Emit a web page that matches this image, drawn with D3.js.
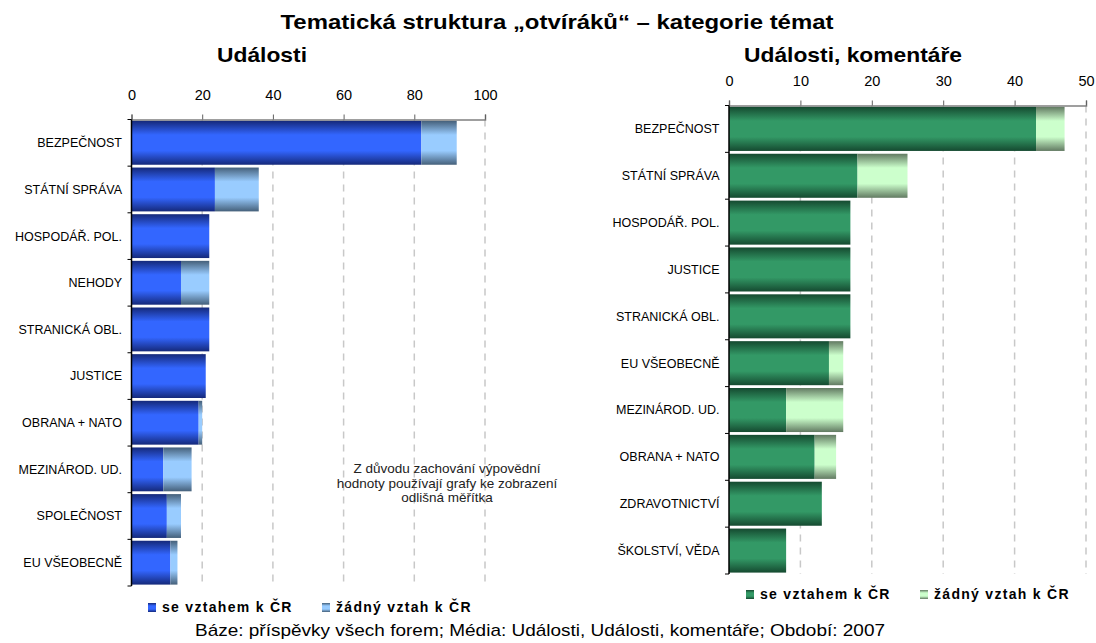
<!DOCTYPE html>
<html>
<head>
<meta charset="utf-8">
<script src="https://cdn.jsdelivr.net/npm/d3@7"></script>
<style>
  body { margin: 0; background: #fff; }
  svg { font-family: Arial, "Liberation Sans", sans-serif; }
</style>
</head>
<body>
<svg id="chart" width="1096" height="643"></svg>
<script>
// values
const leftCategories = ["BEZPEČNOST", "STÁTNÍ SPRÁVA", "HOSPODÁŘ. POL.", "NEHODY", "STRANICKÁ OBL.", "JUSTICE", "OBRANA + NATO", "MEZINÁROD. UD.", "SPOLEČNOST", "EU VŠEOBECNĚ"];
const leftSe = [82, 23.6, 22, 14, 22, 21, 19, 9, 10, 11];
const leftZadny = [10, 12.4, 0, 8, 0, 0, 1, 8, 4, 2];
const leftTicks = [0, 20, 40, 60, 80, 100];

const rightCategories = ["BEZPEČNOST", "STÁTNÍ SPRÁVA", "HOSPODÁŘ. POL.", "JUSTICE", "STRANICKÁ OBL.", "EU VŠEOBECNĚ", "MEZINÁROD. UD.", "OBRANA + NATO", "ZDRAVOTNICTVÍ", "ŠKOLSTVÍ, VĚDA"];
const rightSe = [43, 18, 17, 17, 17, 14, 8, 12, 13, 8];
const rightZadny = [4, 7, 0, 0, 0, 2, 8, 3, 0, 0];
const rightTicks = [0, 10, 20, 30, 40, 50];

const seriesNames = ["se vztahem k ČR", "žádný vztah k ČR"];

const svg = d3.select("#chart");
const defs = svg.append("defs");

// vertical "tube" gradients like the Excel bars
function gradient(id, edge, mid) {
  const g = defs.append("linearGradient").attr("id", id)
    .attr("x1", 0).attr("y1", 0).attr("x2", 0).attr("y2", 1);
  [[0, edge], [0.32, mid], [0.5, mid], [0.68, mid], [1, edge]].forEach(s => {
    g.append("stop").attr("offset", s[0]).attr("stop-color", s[1]);
  });
}
gradient("blueDark", "#15297a", "#3366ff");
gradient("blueLight", "#45607a", "#99ccff");
gradient("greenDark", "#154a30", "#339966");
gradient("greenLight", "#627a62", "#ccffcc");

// titles (widths stretched a little to match the original rendering)
function title(txt, x, y, size, len) {
  svg.append("text").attr("x", x).attr("y", y).attr("text-anchor", "middle")
    .style("font-size", size + "px").style("font-weight", "bold")
    .attr("textLength", len).attr("lengthAdjust", "spacingAndGlyphs")
    .text(txt);
}
title("Tematická struktura „otvíráků“ – kategorie témat", 557, 29, 21, 553);
title("Události", 262, 62, 21, 90);
title("Události, komentáře", 853, 62, 21, 218);

function drawPanel(opt) {
  const x = d3.scaleLinear().domain(opt.domain).range([opt.left, opt.right]);
  const y = d3.scaleBand().domain(opt.categories).range([opt.top, opt.bottom])
    .paddingInner(0.06).paddingOuter(0.03);
  const step = y.step();
  const g = svg.append("g");

  // dashed grid
  g.selectAll(".grid").data(opt.ticks.slice(1)).enter().append("line")
    .attr("x1", d => x(d)).attr("x2", d => x(d))
    .attr("y1", opt.top).attr("y2", opt.bottom)
    .attr("stroke", "#c8c8c8").attr("stroke-width", 1.5)
    .attr("stroke-dasharray", "7,6");

  // top axis
  const ax = g.append("g").attr("transform", `translate(0,${opt.top})`)
    .call(d3.axisTop(x).tickValues(opt.ticks).tickSize(5).tickPadding(14.5).tickFormat(d3.format("d")));
  ax.select(".domain").attr("stroke", "#808080").attr("stroke-width", 1.5);
  ax.selectAll(".tick line").attr("stroke", "#606060");
  ax.selectAll("text").style("font-size", "14.5px").attr("fill", "#000");

  // stacked bars
  const rows = opt.categories.map((c, i) => ({ c, se: opt.se[i], z: opt.z[i] }));
  const stacked = d3.stack().keys(["se", "z"])(rows);
  g.selectAll(".layer").data(stacked).enter().append("g")
    .attr("fill", (d, i) => `url(#${opt.fills[i]})`)
    .selectAll("rect").data(d => d.filter(p => p[1] > p[0])).enter().append("rect")
    .attr("x", d => x(d[0]))
    .attr("y", d => y(d.data.c))
    .attr("width", d => x(d[1]) - x(d[0]))
    .attr("height", y.bandwidth());

  // left axis with ticks on band boundaries
  g.append("line").attr("x1", opt.left).attr("x2", opt.left)
    .attr("y1", opt.top).attr("y2", opt.bottom).attr("stroke", "#000").attr("stroke-width", 1.5);
  g.selectAll(".ytick").data(d3.range(opt.categories.length + 1)).enter().append("line")
    .attr("x1", opt.left - 4).attr("x2", opt.left)
    .attr("y1", i => opt.top + i * step).attr("y2", i => opt.top + i * step)
    .attr("stroke", "#000").attr("stroke-width", 1);

  g.selectAll(".cat").data(opt.categories).enter().append("text")
    .attr("x", opt.left - 9.5)
    .attr("y", d => y(d) + y.bandwidth() / 2)
    .attr("dy", "0.35em").attr("text-anchor", "end")
    .style("font-size", "12.5px")
    .text(d => d);

  // legend
  const lg = g.append("g").attr("transform", `translate(${opt.legendX},${opt.legendY})`);
  seriesNames.forEach((s, i) => {
    const ox = i * 174;
    lg.append("rect").attr("x", ox).attr("y", -9).attr("width", 8).attr("height", 9)
      .attr("fill", `url(#${opt.fills[i]})`);
    lg.append("text").attr("x", ox + 14).attr("y", 0)
      .style("font-size", "14px").style("font-weight", "bold").style("letter-spacing", "1.3px")
      .text(s);
  });
}

drawPanel({
  categories: leftCategories, se: leftSe, z: leftZadny, ticks: leftTicks,
  domain: [0, 100], left: 131.5, right: 485, top: 119.5, bottom: 586,
  fills: ["blueDark", "blueLight"], legendX: 148, legendY: 612
});
drawPanel({
  categories: rightCategories, se: rightSe, z: rightZadny, ticks: rightTicks,
  domain: [0, 50], left: 729, right: 1086, top: 105.5, bottom: 574,
  fills: ["greenDark", "greenLight"], legendX: 746, legendY: 599
});

// note
const note = ["Z důvodu zachování výpovědní", "hodnoty používají grafy ke zobrazení", "odlišná měřítka"];
svg.append("g").selectAll("text").data(note).enter().append("text")
  .attr("x", 447).attr("y", (d, i) => 473 + i * 14.5).attr("text-anchor", "middle")
  .style("font-size", "13.5px").attr("fill", "#222").text(d => d);

// footer
svg.append("text").attr("x", 540).attr("y", 636).attr("text-anchor", "middle")
  .style("font-size", "17px")
  .attr("textLength", 690).attr("lengthAdjust", "spacingAndGlyphs")
  .text("Báze: příspěvky všech forem; Média: Události, Události, komentáře; Období: 2007");
</script>
</body>
</html>
